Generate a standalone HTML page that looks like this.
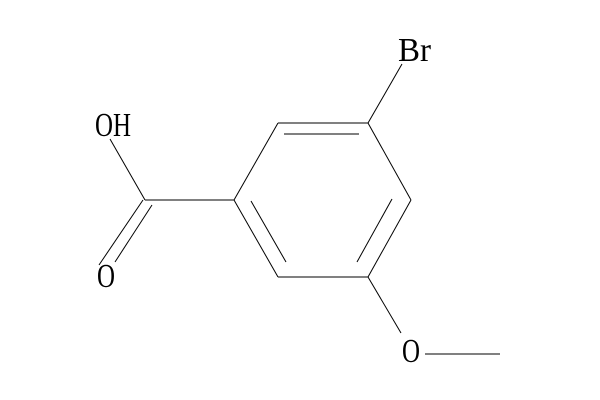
<!DOCTYPE html>
<html><head><meta charset="utf-8"><style>
html,body{margin:0;padding:0;background:#fff;width:600px;height:400px;overflow:hidden}
</style></head><body>
<svg width="600" height="400" viewBox="0 0 600 400" xmlns="http://www.w3.org/2000/svg">
<g stroke="#000" stroke-width="1" fill="none">
<line x1="234" y1="200" x2="278" y2="123"/>
<line x1="278" y1="123" x2="368" y2="123"/>
<line x1="368" y1="123" x2="411" y2="200"/>
<line x1="411" y1="200" x2="368" y2="277"/>
<line x1="368" y1="277" x2="278" y2="277"/>
<line x1="278" y1="277" x2="234" y2="200"/>
<line x1="284" y1="134" x2="359" y2="134"/>
<line x1="392" y1="199" x2="357" y2="262"/>
<line x1="251" y1="201" x2="286" y2="262"/>
<line x1="234" y1="200" x2="145" y2="200"/>
<line x1="145" y1="200" x2="110" y2="139"/>
<line x1="143" y1="200" x2="99" y2="265"/>
<line x1="152" y1="205" x2="115" y2="262"/>
<line x1="368" y1="123" x2="402" y2="64"/>
<line x1="368" y1="277" x2="401" y2="333"/>
<line x1="425" y1="354" x2="500" y2="354"/>
</g>
<g font-family="Liberation Serif, serif" font-size="34" fill="#000">
<text x="95" y="136" textLength="36" lengthAdjust="spacingAndGlyphs">OH</text>
<text x="97" y="287" textLength="18" lengthAdjust="spacingAndGlyphs">O</text>
<text x="398" y="61" textLength="33" lengthAdjust="spacingAndGlyphs">Br</text>
<text x="402" y="362" textLength="18" lengthAdjust="spacingAndGlyphs">O</text>
</g>
</svg>
</body></html>
